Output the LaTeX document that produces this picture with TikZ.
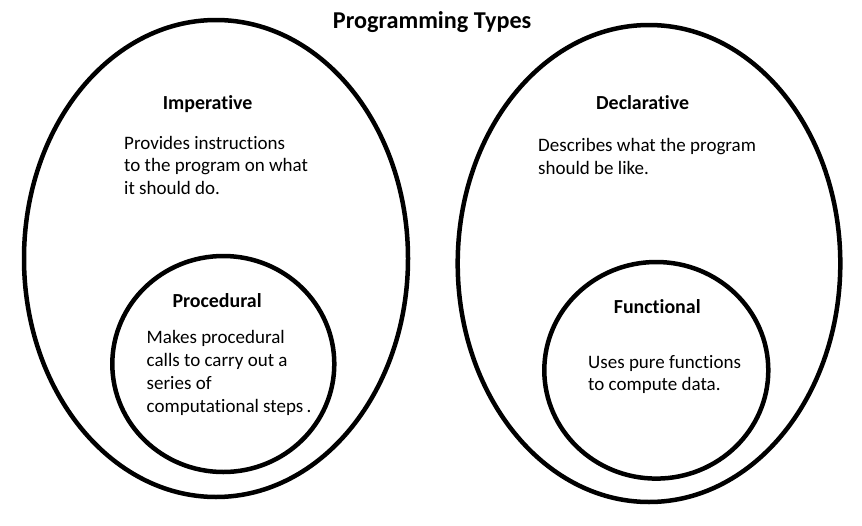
\documentclass[tikz,border=0pt]{standalone}
\usepackage{fontspec}
\setmainfont{Carlito}[Ligatures={NoCommon}]
\begin{document}
\begin{tikzpicture}[x=1pt,y=-1pt,
  ring/.style={line width=4.5pt},
  body/.style={anchor=base west, inner sep=0pt, font=\fontsize{19}{22.8}\selectfont},
  head/.style={anchor=base west, inner sep=0pt, font=\fontsize{19.9}{23.5}\selectfont\bfseries},
  ttl/.style={anchor=base west, inner sep=0pt, font=\fontsize{24.2}{28}\selectfont\bfseries}]
\useasboundingbox[fill=white] (0,0) rectangle (862,525);
% rings
\draw[ring] (216,258.5) ellipse [x radius=192pt, y radius=238.5pt];
\draw[ring] (223.3,364) ellipse [x radius=111pt, y radius=108pt];
\draw[ring] (649,263.5) ellipse [x radius=191.3pt, y radius=238.5pt];
\draw[ring] (656.3,370.3) ellipse [x radius=112pt, y radius=108.3pt];
% texts
\node[ttl] (title) at (332.7,28.3) {Programming Types};
\node[head] (imp) at (162.7,109.3) {Imperative};
\node[body] (imptxt) at (124,149) {\vtop{\hbox{Provides instructions}\hbox{to the program on what}\hbox{it should do.}}};
\node[head] (dec) at (596,109) {Declarative};
\node[body] (dectxt) at (538,151.7) {\vtop{\hbox{Describes what the program}\hbox{should be like.}}};
\node[head] (proc) at (172.3,307.7) {Procedural};
\node[body] (proctxt) at (146.5,343.7) {\vtop{\hbox{Makes procedural}\hbox{calls to carry out a}\hbox{series of}\hbox{computational steps\,.}}};
\node[head] (func) at (613.7,313.7) {Functional};
\node[body] (functxt) at (588,368) {\vtop{\hbox{Uses pure functions}\hbox{to compute data.}}};
\end{tikzpicture}
\end{document}
